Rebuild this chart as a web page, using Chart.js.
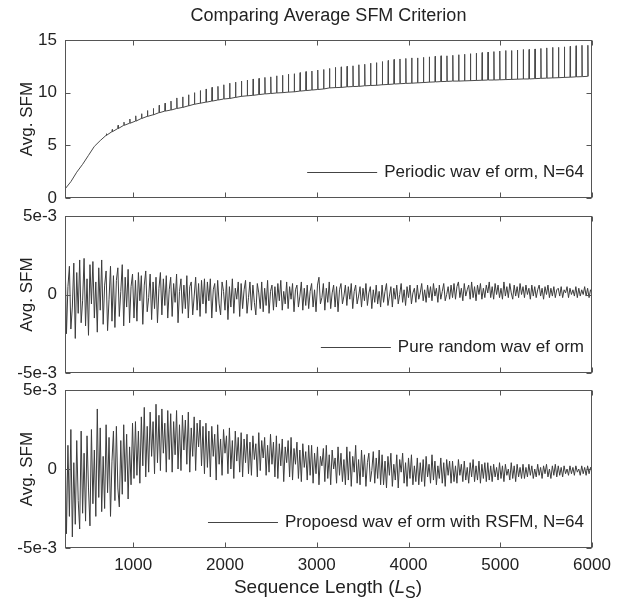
<!DOCTYPE html>
<html><head><meta charset="utf-8">
<script src="https://cdn.jsdelivr.net/npm/chart.js@4.4.1/dist/chart.umd.min.js"></script>
<style>
html,body{margin:0;padding:0;background:#fff;}
#wrap{position:relative;width:625px;height:598px;overflow:hidden;background:#fff;}
#wrap canvas{position:absolute;left:0;top:0;}
#xtitle{position:absolute;left:0;width:656px;top:577px;text-align:center;font-size:19px;line-height:19px;font-family:"Liberation Sans",Arial,sans-serif;color:#222;white-space:nowrap;}
#xtitle sub{line-height:0;font-size:16px;}
</style></head>
<body>
<div id="wrap">
<canvas id="c1" width="625" height="598"></canvas>
<canvas id="c2" width="625" height="598"></canvas>
<canvas id="c3" width="625" height="598"></canvas>
<div id="xtitle">Sequence Length (<i>L</i><sub>S</sub>)</div>
</div>
<script>
// ---------- text ----------
const chartTitle = 'Comparing Average SFM Criterion';
const yAxisTitle = 'Avg. SFM';
const seriesNames = ['Periodic wav ef orm, N=64', 'Pure random wav ef orm', 'Propoesd wav ef orm with RSFM, N=64'];

// ---------- axes ----------
const xMin = 256, xMax = 6000;
const xTickValues = [1000, 2000, 3000, 4000, 5000, 6000];
const xTickLabels = ['1000', '2000', '3000', '4000', '5000', '6000'];
const topTickValues = [0, 5, 10, 15];
const topTickLabels = ['0', '5', '10', '15'];
const smallTickValues = [-0.005, 0, 0.005];
const smallTickLabels = ['-5e-3', '0', '5e-3'];

// ---------- periodic waveform (sequence lengths 256, 320, ... step 64) ----------
const periodicFirstLength = 256, periodicStep = 64;
const periodicBase = [
 0.85,1.55,2.45,3.2,4.05,4.9,5.45,5.95,6.3,6.6,
 6.9,7.1,7.3,7.55,7.75,7.9,8.1,8.25,8.35,8.5,
 8.6,8.75,8.9,9.0,9.1,9.2,9.3,9.4,9.45,9.55,
 9.65,9.7,9.75,9.82,9.88,9.92,9.97,10.0,10.05,10.08,
 10.15,10.2,10.25,10.3,10.35,10.45,10.48,10.5,10.55,10.58,
 10.6,10.65,10.68,10.7,10.75,10.78,10.82,10.85,10.88,10.9,
 10.93,10.96,11.0,11.02,11.05,11.07,11.1,11.1,11.12,11.14,
 11.16,11.18,11.2,11.2,11.22,11.24,11.26,11.28,11.3,11.3,
 11.33,11.36,11.38,11.4,11.42,11.45,11.47,11.5,11.52,11.55
];
const periodicPeak = [
 null,null,null,null,null,null,null,6.1,6.5,6.9,
 7.2,7.5,7.8,8.0,8.3,8.5,8.8,9.0,9.2,9.5,
 9.6,9.8,10.0,10.2,10.35,10.5,10.6,10.75,10.9,11.0,
 11.1,11.2,11.3,11.35,11.45,11.5,11.6,11.65,11.75,11.8,
 11.9,12.0,12.05,12.15,12.2,12.3,12.4,12.45,12.5,12.55,
 12.65,12.7,12.8,12.85,12.95,13.05,13.15,13.2,13.25,13.3,
 13.3,13.35,13.4,13.45,13.5,13.5,13.55,13.6,13.65,13.7,
 13.75,13.8,13.85,13.9,13.95,14.0,14.0,14.05,14.1,14.1,
 14.15,14.2,14.25,14.3,14.3,14.35,14.4,14.45,14.5,14.5
];

// ---------- noise series (sequence lengths 256, 272, ... step 16), values in units of 1e-4 ----------
const noiseFirstLength = 256, noiseStep = 16;
const randomSfm_e4 = [
 28,-25,5,18,-22,-8,20,-28,14,-12,22,-18,-4,23,-20,10,-26,19,-6,21,-15,8,-24,17,
 -10,22,-19,6,15,-23,-3,18,-17,12,-21,9,17,-14,2,19,-20,11,-8,16,-18,5,13,-15,
 9,-17,14,-4,12,-19,6,15,-11,-2,13,-16,8,-9,11,-18,4,14,-13,10,-7,12,-15,3,
 11,-14,7,-5,13,-18,2,10,-12,6,-9,12,-15,5,8,-13,-1,11,-10,7,-14,9,-6,10,
 -12,8,-4,10,-15,3,7,-11,9,-6,-13,8,2,-10,9,-16,5,-8,10,-12,4,-3,8,-14,
 7,-9,3,9,-12,-2,8,-10,6,-5,-13,7,1,-9,8,-11,4,-7,9,-12,2,6,-10,5,
 -8,7,-4,9,-10,2,-6,8,-9,5,-3,7,-11,3,6,-8,-1,8,-10,4,-7,6,-9,2,
 7,-8,3,-11,6,11,-6,-2,7,-10,4,-5,8,-9,1,6,-8,5,-11,3,7,-6,-1,6,
 -7,5,-3,7,-9,2,6,-6,-1,5,-8,4,-4,7,-7,1,5,-9,3,-5,6,-6,2,-8,
 6,-5,2,7,-7,-1,5,-8,4,-3,6,-6,0,7,-5,3,-7,5,-2,6,-6,1,4,-5,
 6,-3,1,7,-4,3,-5,6,-2,5,-4,7,-1,4,-5,6,-3,2,7,-4,0,5,-3,6,
 -2,7,-3,5,8,-2,4,-4,7,-1,3,6,-3,8,-2,5,-4,6,0,7,-3,4,-2,6,
 1,8,-2,5,-3,7,0,6,-2,4,-3,8,-1,5,-2,7,1,-3,6,-1,5,-2,7,0,
 5,-2,6,0,4,-3,6,-1,5,-2,3,6,-1,4,-3,5,0,6,-2,4,-1,5,-2,3,
 4,-1,5,-2,3,1,5,-2,4,0,3,-1,5,-2,4,-1,3,0,5,-1,4,-2,3,1
];
const proposedSfm_e4 = [
 22,-41,15,-30,25,-43,4,-35,18,-20,-38,24,-28,10,-33,21,-12,-36,25,-22,12,-30,38,-18,
 26,-27,8,-25,28,-15,20,-30,5,24,-20,27,-12,-24,18,-16,28,-8,22,-19,14,-10,29,-6,
 30,-4,24,-9,33,2,39,-5,27,-2,36,8,30,-3,41,4,34,-1,38,10,29,-2,37,6,
 35,-2,30,9,37,0,28,-1,34,12,31,3,36,-2,26,8,33,-1,29,14,31,2,27,-3,
 29,1,24,-5,27,8,22,-7,28,3,19,-4,25,10,21,-3,26,0,18,-6,24,5,20,-2,
 23,-5,19,4,22,-3,17,-4,21,6,16,-5,23,-1,18,7,20,-4,15,-2,22,3,17,-5,
 21,-6,16,2,19,-8,14,4,18,-5,20,-7,13,3,17,-6,12,-8,16,1,11,-7,15,-4,
 15,-9,10,-3,14,-10,8,2,13,-8,15,-6,9,-10,12,0,7,-9,14,-4,10,-8,6,-10,
 14,-7,11,-11,8,-2,15,-9,6,-10,12,-5,9,-11,4,10,-8,-1,11,-9,7,-6,12,-10,
 9,-10,5,-12,8,-4,10,-11,3,-7,9,-12,6,-2,10,-9,4,-11,7,-6,9,-10,2,-8,
 7,-10,4,-8,6,-11,8,-5,3,-9,9,-7,5,-10,2,-6,7,-9,4,-11,6,-4,5,-9,
 5,-8,2,-9,6,-4,3,-8,5,-7,1,-9,4,-5,6,-8,2,-7,5,-9,3,-6,4,-8,
 4,-7,2,-8,3,-5,1,-7,4,-6,2,-8,3,-4,0,-7,4,-6,2,-8,3,-5,1,-6,
 3,-6,1,-5,3,-4,2,-6,0,-5,3,-4,1,-6,2,-3,3,-5,0,-6,2,-4,3,-5,
 2,-4,1,-5,2,-3,0,-4,2,-3,1,-4,2,-2,0,-4,2,-3,1,-4,2,-3,1,-2
];

// ---------- build point tables ----------
const periodicPoints = [];
periodicBase.forEach((b, k) => {
  const x0 = periodicFirstLength + periodicStep * k;
  periodicPoints.push({x: x0, y: b});
  if (periodicPeak[k] !== null) {
    periodicPoints.push({x: x0 + 3, y: periodicPeak[k]});
    periodicPoints.push({x: x0 + 6, y: b});
  }
});
const toNoisePoints = arr => arr.map((v, i) => ({x: noiseFirstLength + noiseStep * i, y: v * 1e-4}));

const FONT = '"Liberation Sans", Arial, Helvetica, sans-serif';
Chart.defaults.font.family = FONT;
Chart.defaults.color = '#222';

const framePlugin = {
  id: 'frame',
  afterDraw(chart, args, opts) {
    const {ctx, chartArea: a, scales: {x, y}} = chart;
    const L = Math.round(a.left) + 0.5, R = Math.round(a.right) - 0.5;
    const T = Math.round(a.top) + 0.5, B = Math.round(a.bottom) - 0.5;
    ctx.save();
    ctx.strokeStyle = '#555';
    ctx.lineWidth = 1;
    ctx.strokeRect(L, T, R - L, B - T);
    const tl = 5;
    ctx.beginPath();
    xTickValues.forEach(v => {
      const px = Math.round(x.getPixelForValue(v)) + 0.5;
      ctx.moveTo(px, T); ctx.lineTo(px, T + tl);
      ctx.moveTo(px, B); ctx.lineTo(px, B - tl);
    });
    opts.yTicks.forEach(v => {
      const py = Math.round(y.getPixelForValue(v)) + 0.5;
      ctx.moveTo(L, py); ctx.lineTo(L + tl, py);
      ctx.moveTo(R, py); ctx.lineTo(R - tl, py);
    });
    ctx.stroke();
    ctx.restore();
  }
};

const legendPlugin = {
  id: 'insideLegend',
  afterDraw(chart) {
    const {ctx, chartArea: a} = chart;
    const ds = chart.data.datasets[0];
    ctx.save();
    ctx.font = '17px ' + FONT;
    const w = ctx.measureText(ds.label).width;
    const tx = a.right - 8 - w;
    const ty = Math.round(a.bottom - 26) + 0.5;
    ctx.strokeStyle = '#444';
    ctx.lineWidth = 1;
    ctx.beginPath();
    ctx.moveTo(tx - 77, ty); ctx.lineTo(tx - 7, ty);
    ctx.stroke();
    ctx.fillStyle = '#222';
    ctx.textBaseline = 'middle';
    ctx.fillText(ds.label, tx, ty);
    ctx.restore();
  }
};

function makeChart(id, label, points, cfg) {
  return new Chart(document.getElementById(id), {
    type: 'line',
    data: {datasets: [{
      label: label, data: points, borderColor: cfg.color, borderWidth: cfg.lw,
      pointRadius: 0, tension: 0, fill: false
    }]},
    plugins: [framePlugin, legendPlugin],
    options: {
      responsive: false, animation: false, devicePixelRatio: 1,
      layout: {padding: {left: 0, right: 33, top: cfg.padTop, bottom: cfg.padBottom}},
      plugins: {
        legend: {display: false}, tooltip: {enabled: false},
        title: cfg.title ? {display: true, fullSize: false, text: cfg.title, color: '#222',
          font: {size: 18, weight: 'normal'}, padding: {top: 5, bottom: 13.4}} : {display: false},
        frame: {yTicks: cfg.yTicks}
      },
      scales: {
        x: {
          type: 'linear', min: xMin, max: xMax,
          afterBuildTicks: s => { s.ticks = xTickValues.map(v => ({value: v})); },
          afterFit: s => { s.height = cfg.xHeight; },
          grid: {display: false, drawTicks: false}, border: {display: false},
          ticks: {display: cfg.showX, padding: 7, maxRotation: 0, autoSkip: false,
            color: '#222', font: {size: 17}, callback: (v, i) => xTickLabels[i]}
        },
        y: {
          type: 'linear', min: cfg.yMin, max: cfg.yMax,
          afterBuildTicks: s => { s.ticks = cfg.yTicks.map(v => ({value: v})); },
          afterFit: s => { s.width = 65; },
          grid: {display: false, drawTicks: false}, border: {display: false},
          ticks: {padding: 8, color: '#222', font: {size: 17}, callback: (v, i) => cfg.yLabels[i]},
          title: {display: true, text: yAxisTitle, color: '#222', font: {size: 17}, padding: {top: 17, bottom: 0}}
        }
      }
    }
  });
}

makeChart('c1', seriesNames[0], periodicPoints, {
  color: '#4a4a4a', lw: 1, title: chartTitle, padTop: 0, padBottom: 400, xHeight: 0, showX: false,
  yMin: 0, yMax: 15, yTicks: topTickValues, yLabels: topTickLabels
});
makeChart('c2', seriesNames[1], toNoisePoints(randomSfm_e4), {
  color: '#3c3c3c', lw: 1, title: null, padTop: 216, padBottom: 225, xHeight: 0, showX: false,
  yMin: -0.005, yMax: 0.005, yTicks: smallTickValues, yLabels: smallTickLabels
});
makeChart('c3', seriesNames[2], toNoisePoints(proposedSfm_e4), {
  color: '#3c3c3c', lw: 1, title: null, padTop: 390, padBottom: 0, xHeight: 50, showX: true,
  yMin: -0.005, yMax: 0.005, yTicks: smallTickValues, yLabels: smallTickLabels
});
</script>
</body></html>
